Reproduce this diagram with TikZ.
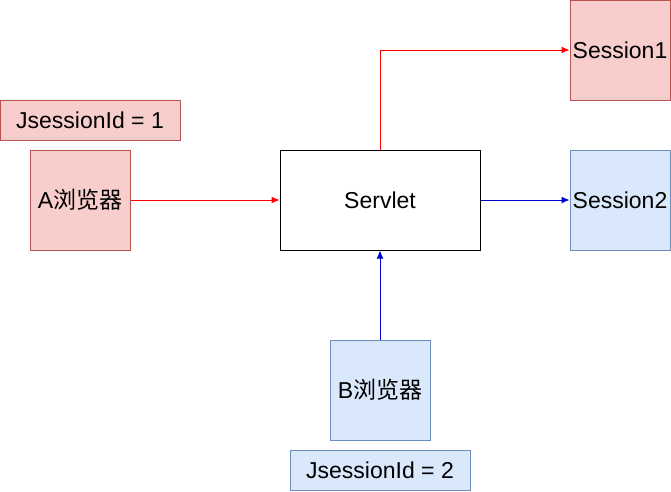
\documentclass[tikz,border=0pt]{standalone}
\usepackage{fontspec}
\setmainfont{Liberation Sans}
\newfontfamily\cjk{Noto Sans CJK SC}
\usetikzlibrary{arrows.meta}
\definecolor{redfill}{HTML}{F8CECC}
\definecolor{redline}{HTML}{B85450}
\definecolor{bluefill}{HTML}{DAE8FC}
\definecolor{blueline}{HTML}{6C8EBF}
\definecolor{arrred}{HTML}{FF0000}
\definecolor{arrblue}{HTML}{0000CC}
\begin{document}
\begin{tikzpicture}[x=1pt,y=-1pt,
  every node/.style={font=\fontsize{23}{27}\selectfont, inner sep=0pt},
  redbox/.style={draw=redline, fill=redfill, line width=1pt},
  bluebox/.style={draw=blueline, fill=bluefill, line width=1pt},
  plainbox/.style={draw=black, fill=white, line width=1pt},
  sq/.style={minimum width=100pt, minimum height=100pt},
  idbox/.style={minimum width=180pt, minimum height=40pt},
  redarrow/.style={draw=arrred, line width=1pt, -{Latex[length=8pt,width=7pt]}},
  bluearrow/.style={draw=arrblue, line width=1pt, -{Latex[length=8pt,width=7pt]}}]
\useasboundingbox (0,0) rectangle (671,491);
\node[redbox, idbox] (id1) at (90,120) {JsessionId = 1};
\node[redbox, sq] (a) at (80,200) {A{\cjk 浏览器}};
\node[plainbox, minimum width=200pt, minimum height=100pt] (servlet) at (380,200) {Servlet};
\node[redbox, sq] (s1) at (620,50) {Session1};
\node[bluebox, sq] (s2) at (620,200) {Session2};
\node[bluebox, sq] (b) at (380,390) {B{\cjk 浏览器}};
\node[bluebox, idbox] (id2) at (380,470) {JsessionId = 2};
\draw[redarrow] (a.east) -- (servlet.west);
\draw[redarrow] (servlet.north) |- (s1.west);
\draw[bluearrow] (servlet.east) -- (s2.west);
\draw[bluearrow] (b.north) -- (servlet.south);
\end{tikzpicture}
\end{document}
